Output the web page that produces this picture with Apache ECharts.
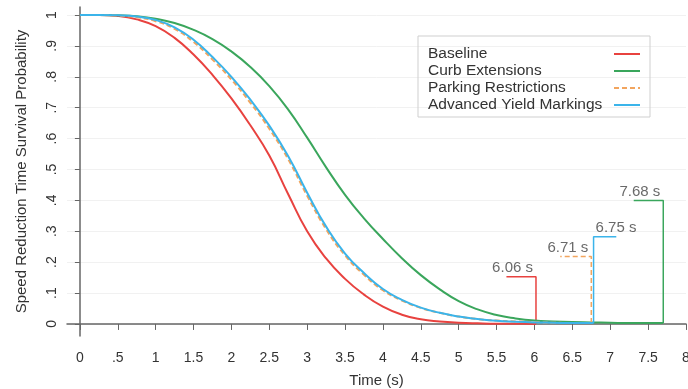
<!DOCTYPE html>
<html>
<head>
<meta charset="utf-8">
<script src="https://cdn.jsdelivr.net/npm/echarts@6/dist/echarts.min.js"></script>
<style>
  html, body { margin: 0; padding: 0; background: #fff; }
  #chart { width: 688px; height: 389px; }
</style>
</head>
<body>
<div id="chart"></div>
<script>
// ===== data =====
const times = [0, 0.25, 0.5, 0.75, 1, 1.25, 1.5, 1.75, 2, 2.25, 2.5, 2.75, 3, 3.25, 3.5, 3.75,
  4, 4.25, 4.5, 4.75, 5, 5.25, 5.5, 5.75, 6, 6.25, 6.5, 6.75, 7, 7.25, 7.5];

const seriesNames = ['Baseline', 'Curb Extensions', 'Parking Restrictions', 'Advanced Yield Markings'];

const baseline = [1.0, 1.0, 0.997, 0.986, 0.964, 0.926, 0.872, 0.806, 0.73, 0.643, 0.545, 0.42, 0.30,
  0.212, 0.146, 0.095, 0.056, 0.03, 0.015, 0.008, 0.004, 0.002, 0.001, 0.001, 0.0];
const curbExt = [1.0, 1.0, 0.999, 0.996, 0.988, 0.974, 0.952, 0.922, 0.882, 0.832, 0.77, 0.694, 0.603,
  0.507, 0.418, 0.342, 0.275, 0.213, 0.158, 0.112, 0.074, 0.047, 0.029, 0.018, 0.011, 0.008, 0.006,
  0.005, 0.004, 0.003, 0.003];
const parking = [1.0, 1.0, 0.998, 0.993, 0.98, 0.955, 0.913, 0.856, 0.791, 0.716, 0.632, 0.533, 0.415,
  0.307, 0.222, 0.159, 0.109, 0.076, 0.052, 0.036, 0.024, 0.016, 0.011, 0.008, 0.006, 0.004, 0.003, 0.003];
const yieldMark = [1.0, 1.0, 0.999, 0.995, 0.984, 0.96, 0.92, 0.864, 0.80, 0.726, 0.642, 0.543, 0.425,
  0.315, 0.228, 0.165, 0.113, 0.078, 0.053, 0.036, 0.024, 0.016, 0.01, 0.007, 0.005, 0.004, 0.003, 0.003];

// max time per group: vertical marker, its height, horizontal arm (neg = left), label
const endTimes = [6.02, 7.70, 6.75, 6.78];
const markHeights = [0.153, 0.40, 0.218, 0.282];
const markArms = [-0.39, -0.39, -0.41, 0.30];
const markLabels = ['6.06 s', '7.68 s', '6.71 s', '6.75 s'];

const xTicks = [0, 0.5, 1, 1.5, 2, 2.5, 3, 3.5, 4, 4.5, 5, 5.5, 6, 6.5, 7, 7.5, 8];
const yTicks = [0, 0.1, 0.2, 0.3, 0.4, 0.5, 0.6, 0.7, 0.8, 0.9, 1];

const colors = ['#e8423f', '#3aa65c', '#f2a55e', '#3bb4ea'];
const FONT = 'Liberation Sans, Arial, sans-serif';

// legend swatches: thin bars, the parking one dashed
const ICON_SOLID = 'path://M0,0H26V2H0Z';
const ICON_DASH = 'path://M0,0H5V2H0ZM8,0H13V2H8ZM16,0H21V2H16ZM24,0H26V2H24Z';

// ===== build =====
const allValues = [baseline, curbExt, parking, yieldMark];

function curvePoints(vals, end) {
  const pts = vals.map((v, i) => [times[i], v]);
  pts.push([end, vals[vals.length - 1]]);
  return pts;
}

const fmt = v => String(v).replace(/^0\./, '.');

const series = [];
allValues.forEach((vals, i) => {
  series.push({
    name: seriesNames[i],
    type: 'line',
    data: curvePoints(vals, endTimes[i]),
    symbol: 'none',
    smooth: 0.5,
    silent: true,
    lineStyle: { width: 2, color: colors[i], type: i === 2 ? [5, 3] : 'solid' },
    itemStyle: { color: colors[i] },
    z: 3 + i
  });
});

allValues.forEach((vals, i) => {
  const end = endTimes[i];
  const h = markHeights[i];
  series.push({
    type: 'line',
    data: [[end, vals[vals.length - 1]], [end, h], [end + markArms[i], h]],
    symbol: 'none',
    silent: true,
    lineStyle: { width: 1.5, color: colors[i], type: i === 2 ? [5, 3] : 'solid' },
    z: 3 + i
  });
  series.push({
    type: 'scatter',
    data: [[end, h]],
    symbolSize: 1,
    silent: true,
    itemStyle: { color: 'rgba(0,0,0,0)' },
    label: {
      show: true,
      formatter: markLabels[i],
      position: 'top',
      distance: 1,
      align: markArms[i] < 0 ? 'right' : 'left',
      offset: [markArms[i] < 0 ? -3 : 2, 0],
      color: '#444',
      fontSize: 15,
      fontFamily: FONT
    },
    z: 10
  });
});

const chart = echarts.init(document.getElementById('chart'));
chart.setOption({
  animation: false,
  backgroundColor: '#fff',
  grid: { left: 67, right: 2, top: 7, bottom: 53, outerBoundsMode: 'none', containLabel: false },
  legend: {
    data: seriesNames.map((n, i) => ({ name: n, icon: i === 2 ? ICON_DASH : ICON_SOLID })),
    orient: 'vertical',
    left: 418,
    top: 36,
    align: 'right',
    itemWidth: 26,
    itemHeight: 2,
    itemGap: 1,
    padding: [10, 10, 4, 10],
    borderColor: '#cfcfcf',
    borderWidth: 1,
    formatter: name => '{t|' + name + '}',
    textStyle: {
      color: '#333',
      rich: { t: { width: 181, align: 'left', fontSize: 15.5, lineHeight: 17, color: '#333', fontFamily: FONT } }
    }
  },
  xAxis: {
    type: 'value',
    min: -0.17,
    max: 8,
    name: 'Time (s)',
    nameLocation: 'middle',
    nameGap: 37,
    nameTextStyle: { fontSize: 15, color: '#333', fontFamily: FONT },
    axisLine: { show: true, lineStyle: { color: '#666', width: 1.5 } },
    axisTick: { show: true, customValues: xTicks, length: 6, lineStyle: { color: '#666' } },
    axisLabel: { customValues: xTicks, formatter: fmt, fontSize: 14, color: '#333', fontFamily: FONT, margin: 15 },
    splitLine: { show: false }
  },
  yAxis: {
    type: 'value',
    min: -0.039,
    max: 1.026,
    name: 'Speed Reduction Time Survival Probability',
    nameLocation: 'middle',
    nameGap: 38,
    nameTextStyle: { fontSize: 15, color: '#333', fontFamily: FONT },
    axisLine: { show: true, lineStyle: { color: '#666', width: 1.5 } },
    axisTick: { show: true, customValues: yTicks, length: 5, lineStyle: { color: '#666' } },
    axisLabel: { customValues: yTicks, formatter: fmt, rotate: 90, fontSize: 14, color: '#333', fontFamily: FONT, margin: 8 },
    splitLine: { show: true, lineStyle: { color: '#f1f1f1', width: 1 } }
  },
  series: series
});
</script>
</body>
</html>
